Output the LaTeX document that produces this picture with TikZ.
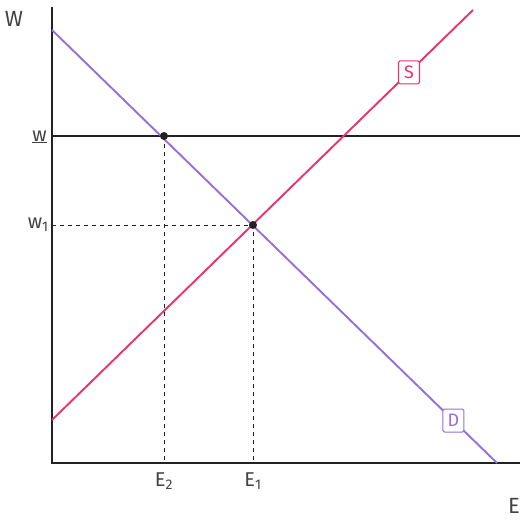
\documentclass[tikz,border=0pt]{standalone}
\usepackage{fontspec}
\setmainfont{Fira Sans}
\definecolor{dcol}{HTML}{9370DB}
\definecolor{scol}{HTML}{E8336D}
\definecolor{ink}{HTML}{222222}
\tikzstyle{axis}=[draw=ink,line width=1.4pt]
\tikzstyle{crv}=[line width=1.9pt]
\tikzstyle{lab}=[rounded corners=1.5pt,draw,fill=white,line width=1.1pt,minimum width=21pt,minimum height=23pt,inner sep=0pt,font=\fontsize{18}{20}\selectfont]
\tikzstyle{guide}=[draw=ink,dash pattern=on 4pt off 4pt,line width=0.9pt]
\tikzstyle{dot}=[circle,fill=ink,inner sep=0pt,minimum size=8pt]
\tikzstyle{txt}=[text=ink!85,inner sep=1pt,font=\fontsize{20}{23}\selectfont]

\begin{document}
\begin{tikzpicture}[x=1pt,y=-1pt]
    \useasboundingbox (0,0) rectangle (528,528);
    \coordinate (O) at (52,463);
    \coordinate (Ytop) at (52,7);
    \coordinate (Xend) at (520,463);
    \draw[axis] (Ytop) -- (O) -- (Xend);
    \node[txt,font=\fontsize{22}{24}\selectfont] (W) at (14,19) {W};
    \node[txt,font=\fontsize{22}{24}\selectfont] (E) at (514,506) {E};
    % wage floor
    \coordinate (w0) at (52,136);
    \coordinate (w9) at (520,136);
    \draw[axis,line width=1.7pt] (w0) -- (w9);
    \node[txt,anchor=east] (wl) at (48,137) {\underline{w}};
    % equilibrium guides
    \coordinate (P1) at (253,225);
    \coordinate (P2) at (164,136);
    \coordinate (w1) at (52,225);
    \coordinate (E1) at (253,463);
    \coordinate (E2) at (164,463);
    \draw[guide] (w1) -- (P1) -- (E1);
    \draw[guide] (P2) -- (E2);
    \node[txt,anchor=east] (w1l) at (50,225) {w\textsubscript{1}};
    \node[txt] (E1l) at (253,481) {E\textsubscript{1}};
    \node[txt] (E2l) at (164,481) {E\textsubscript{2}};
    % demand and supply
    \coordinate (D0) at (52,30);
    \coordinate (D1) at (497,463);
    \coordinate (S0) at (52,420);
    \coordinate (S1) at (473,10);
    \draw[crv,dcol] (D0) -- node[lab,pos=0.902,text=dcol] (Dl) {D} (D1);
    \draw[crv,scol] (S0) -- node[lab,pos=0.848,text=scol] (Sl) {S} (S1);
    \node[dot] (p1) at (P1) {};
    \node[dot] (p2) at (P2) {};
\end{tikzpicture}
\end{document}
